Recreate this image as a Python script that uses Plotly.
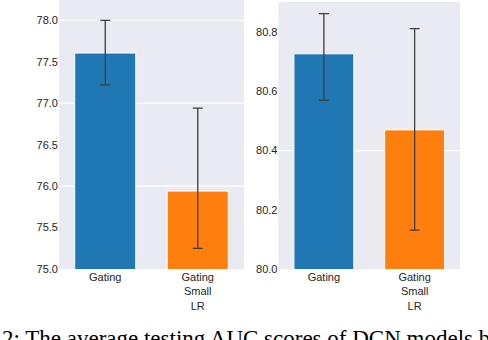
import plotly.graph_objects as go

# data
categories = ["Gating", "Gating<br>Small<br>LR"]
left_auc = [77.605, 75.94]
left_err_plus = [0.395, 1.0]
left_err_minus = [0.385, 0.69]
right_auc = [80.727, 80.470]
right_err_plus = [0.136, 0.342]
right_err_minus = [0.157, 0.339]

left_ticks = [75.0, 75.5, 76.0, 76.5, 77.0, 77.5, 78.0]
right_ticks = [80.0, 80.2, 80.4, 80.6, 80.8]
left_grid = [76.0, 77.0, 78.0]
right_grid = [80.4]

bar_colors = ["#1f77b4", "#ff7f0e"]
caption = "2: The average testing AUC scores of DCN models b"

fig = go.Figure()

err_style = dict(type="data", symmetric=False, color="#3f3f3f", thickness=1.3, width=5)

fig.add_trace(go.Bar(
    x=categories, y=left_auc, base=0,
    marker=dict(color=bar_colors, line=dict(color="white", width=1)),
    width=0.66,
    error_y=dict(array=left_err_plus, arrayminus=left_err_minus, **err_style),
    xaxis="x", yaxis="y", showlegend=False, hoverinfo="skip",
))
fig.add_trace(go.Bar(
    x=categories, y=right_auc, base=0,
    marker=dict(color=bar_colors, line=dict(color="white", width=1)),
    width=0.66,
    error_y=dict(array=right_err_plus, arrayminus=right_err_minus, **err_style),
    xaxis="x2", yaxis="y2", showlegend=False, hoverinfo="skip",
))

# gridlines that survive in the picture
for g in left_grid:
    fig.add_shape(type="line", xref="x domain", yref="y", x0=0, x1=1, y0=g, y1=g,
                  line=dict(color="white", width=1.2), layer="below")
for g in right_grid:
    fig.add_shape(type="line", xref="x2 domain", yref="y2", x0=0, x1=1, y0=g, y1=g,
                  line=dict(color="white", width=1.2), layer="below")

tick_font = dict(family="Liberation Sans, Arial", size=11, color="#262626")
xax = dict(showgrid=False, zeroline=False, showline=False, ticks="",
           tickfont=tick_font, range=[-0.5, 1.5], fixedrange=True)
yax = dict(showgrid=False, zeroline=False, showline=False, ticks="",
           tickfont=tick_font, tickformat=".1f")

fig.update_layout(
    width=488, height=340,
    margin=dict(l=0, r=0, t=0, b=0, autoexpand=False),
    paper_bgcolor="white",
    plot_bgcolor="#eaeaf2",
    barmode="overlay",
    xaxis=dict(domain=[59 / 488, 244 / 488], anchor="y", **xax),
    yaxis=dict(domain=[71 / 340, 1.0], anchor="x", range=[75.0, 78.245],
               tickvals=left_ticks, **yax),
    xaxis2=dict(domain=[278.5 / 488, 460 / 488], anchor="y2", **xax),
    yaxis2=dict(domain=[71 / 340, 338 / 340], anchor="x2", range=[80.0, 80.902],
                tickvals=right_ticks, **yax),
    annotations=[dict(
        text=caption, xref="paper", yref="paper", x=0, y=(340 - 324) / 340,
        xanchor="left", yanchor="top", showarrow=False,
        font=dict(family="Liberation Serif, Times New Roman", size=23, color="#000000"),
    )],
)

fig.write_html("out.html", config={"displayModeBar": False},
               post_script="document.body.style.margin='0';")
